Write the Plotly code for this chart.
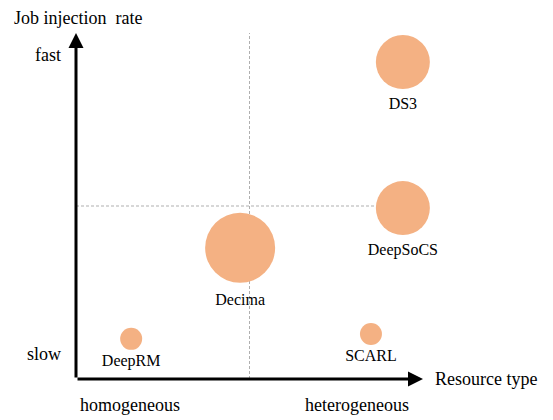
import plotly.graph_objects as go

# bubble data (axes run 0..10 on both directions)
metodos = ['DS3', 'DeepSoCS', 'Decima', 'DeepRM', 'SCARL']
tipo_recurso = [9.42, 9.42, 4.73, 1.59, 8.50]
tasa_inyeccion = [9.16, 4.94, 3.79, 1.16, 1.30]
tamano = [54, 54, 70, 22, 22]

# quadrant split lines
corte_x = 5.0
corte_y = 5.0

# qualitative axis labels
etiquetas_y = ['slow', 'fast']
pos_y = [0.72, 9.36]
etiquetas_x = ['homogeneous', 'heterogeneous']
pos_x = [1.56, 8.10]

color_burbuja = '#F4B183'
fuente = 'Liberation Serif, Times New Roman, serif'

fig = go.Figure()
fig.add_trace(go.Scatter(
    x=tipo_recurso, y=tasa_inyeccion,
    mode='markers+text',
    text=metodos,
    textposition='bottom center',
    textfont=dict(family=fuente, size=16, color='black'),
    marker=dict(size=tamano, sizemode='diameter', color=color_burbuja, line=dict(width=0), opacity=1),
    hoverinfo='text',
    showlegend=False,
    cliponaxis=False,
))

# Lineas punteadas de cuadrante
fig.add_shape(type='line', x0=corte_x, x1=corte_x, y0=0, y1=10, xref='x', yref='y',
              line=dict(color='#AFAFAF', width=1, dash='3px,2px'), layer='below')
fig.add_shape(type='line', x0=0, x1=10, y0=corte_y, y1=corte_y, xref='x', yref='y',
              line=dict(color='#AFAFAF', width=1, dash='3px,2px'), layer='below')

anotaciones = []
# ejes con flechas
anotaciones.append(dict(x=10, y=0, ax=0, ay=0, xref='x', yref='y', axref='x', ayref='y',
                        showarrow=True, arrowhead=2, arrowsize=1, arrowwidth=3, arrowcolor='black', text=''))
anotaciones.append(dict(x=0, y=10, ax=0, ay=0, xref='x', yref='y', axref='x', ayref='y',
                        showarrow=True, arrowhead=2, arrowsize=1, arrowwidth=3, arrowcolor='black', text=''))

for t, p in zip(etiquetas_y, pos_y):
    anotaciones.append(dict(x=0, y=p, xref='paper', yref='y', text=t, showarrow=False,
                            xanchor='right', yanchor='middle', xshift=-13,
                            font=dict(family=fuente, size=18, color='black')))
for t, p in zip(etiquetas_x, pos_x):
    anotaciones.append(dict(x=p, y=0, xref='x', yref='paper', text=t, showarrow=False,
                            xanchor='center', yanchor='middle', yshift=-26,
                            font=dict(family=fuente, size=18, color='black')))

anotaciones.append(dict(x=1, y=0, xref='paper', yref='paper', text='Resource type', showarrow=False,
                        xanchor='left', yanchor='middle', xshift=10,
                        font=dict(family=fuente, size=18, color='black')))
anotaciones.append(dict(x=0, y=1, xref='paper', yref='paper', text='Job injection\u00a0 rate', showarrow=False,
                        xanchor='left', yanchor='middle', xshift=-64, yshift=15,
                        font=dict(family=fuente, size=18, color='black')))

# la pagina deja 8px de margen, por eso 545x412
fig.update_layout(
    width=545, height=412,
    margin=dict(l=68, r=130, t=25, b=41),
    plot_bgcolor='white', paper_bgcolor='white',
    xaxis=dict(range=[0, 10], visible=False, fixedrange=True),
    yaxis=dict(range=[0, 10], visible=False, fixedrange=True),
    annotations=anotaciones,
)

fig.write_html("out.html")
